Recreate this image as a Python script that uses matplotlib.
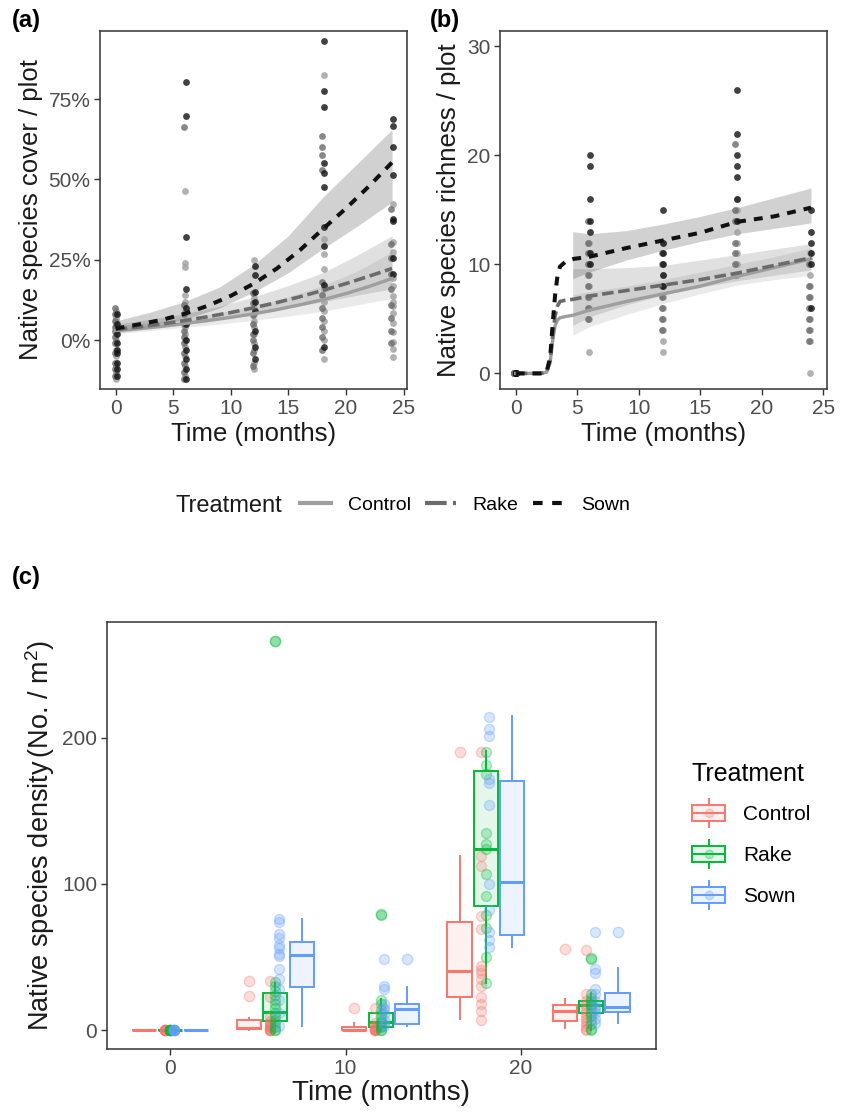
import matplotlib
matplotlib.use("Agg")
import matplotlib.pyplot as plt
import numpy as np
from matplotlib.lines import Line2D
from matplotlib.patches import Rectangle
from matplotlib.colors import to_rgba
from matplotlib.legend_handler import HandlerBase
from matplotlib.ticker import FuncFormatter

plt.rcParams['font.family'] = ['Liberation Sans', 'DejaVu Sans']
plt.rcParams['mathtext.fontset'] = 'custom'
plt.rcParams['mathtext.rm'] = 'Liberation Sans'
plt.rcParams['mathtext.it'] = 'Liberation Sans:italic'

# ---------------- data ----------------
treatments = ["Control", "Rake", "Sown"]
times = [0, 6, 12, 18, 24]

# Panel (a): native species cover (%) per plot, raw points
a_control = {0: [9, 8, 7, 6, 5, 4, 2, 0, -3, -5, -8, -10, -12],
             6: [46.5, 23.9, 22.8, 14, 12, 9, 6, 4, 2, 0, -2, -5, -8, -11],
             12: [25, 13, 10, 8, 6, 4, 2, -1, -3, -7, -9],
             18: [82.5, 31.5, 26.8, 22, 15.8, 12, 9, 6, 3, 0, -6],
             24: [42.5, 30.5, 27.3, 19.4, 16.8, 13.7, 12, 10.5, 8.4, 5.3, 2.6, -0.5, -2.6, -5.3]}
a_rake = {0: [10, 8, 6, 4, 3, 1, -1, -4, -7, -9, -11],
          6: [66.4, 11, 8, 5, 3, 1, -1, -4, -7, -10, -12],
          12: [14.7, 11.6, 7.9, 5, 2, 0, -4, -8],
          18: [63.4, 60.2, 57.5, 53, 18, 14, 10, 7, 4, 1, -3],
          24: [40.8, 30, 25.7, 20.5, 16, 11, 7, 3, -1]}
a_sown = {0: [8, 5, 2, -1, -3, -4, -7, -9, -11],
          6: [80.4, 69.6, 32, 15.9, 10, 5, 0, -3, -6, -9, -12],
          12: [23.1, 20.3, 15, 12, 9, 3, -2, -6],
          18: [93, 77.5, 72.7, 55, 52, 47.8, 35.2, 29.4, 17.3, -2],
          24: [68.8, 66.7, 60.2, 51.5, 37.8, 37, 25.7, 20.5]}

# Panel (a): fitted curves and confidence bands (%)
a_line_t = [0, 2, 4, 6, 8, 10, 12, 14, 16, 18, 20, 22, 24]
a_control_fit = [3.0, 3.6, 4.3, 5.2, 6.1, 7.1, 8.2, 9.5, 11.0, 12.6, 14.5, 16.7, 19.2]
a_rake_fit = [3.3, 4.1, 5.0, 6.1, 7.3, 8.6, 10.1, 11.7, 13.5, 15.5, 17.6, 19.9, 22.3]
a_sown_fit = [3.6, 4.9, 6.3, 8.2, 10.7, 13.8, 17.6, 22.3, 28.0, 34.6, 41.0, 47.9, 55.3]
a_band_t = [0, 3, 6, 9, 12, 15, 18, 21, 24]
a_control_lo = [2.0, 3.0, 4.0, 5.0, 6.2, 7.5, 9.0, 11.0, 13.0]
a_control_hi = [4.5, 5.5, 6.8, 8.5, 10.5, 13.5, 17.0, 21.5, 27.5]
a_rake_lo = [2.2, 3.5, 4.8, 6.3, 8.0, 10.0, 12.0, 14.0, 16.0]
a_rake_hi = [5.0, 6.5, 8.2, 10.5, 13.5, 17.0, 21.0, 26.5, 32.5]
a_sown_lo = [2.5, 4.3, 6.5, 10.0, 15.0, 21.0, 28.5, 35.5, 43.0]
a_sown_hi = [6.0, 8.7, 12.0, 16.5, 23.5, 32.5, 44.5, 55.0, 65.5]

# Panel (b): native species richness per plot
b_control = {0: [0, 0, 0, 0, 0, 0],
             6: [12, 11, 10, 9, 8, 7, 6, 5, 2],
             12: [12, 9, 7, 6, 5, 4, 3, 2],
             18: [16, 15, 13, 12, 11, 10, 9],
             24: [11, 9, 8, 7, 5, 4, 3, 0]}
b_rake = {0: [0, 0, 0, 0, 0, 0],
          6: [14, 12, 11, 10, 9, 8, 7, 6, 5],
          12: [11, 10, 8, 7, 6, 5, 4],
          18: [21, 15, 14, 12, 11, 10, 9],
          24: [10, 8, 7, 6, 5, 4, 3]}
b_sown = {0: [0, 0, 0, 0, 0, 0],
          6: [20, 19, 16, 14, 13, 11, 10],
          12: [15, 12, 11, 10, 9, 8],
          18: [26, 22, 20, 19, 18, 16, 14],
          24: [15, 13, 12, 11, 10, 6]}

b_line_t = [0, 1, 2, 2.5, 2.8, 3.0, 3.2, 3.4, 3.6, 4.0, 4.7, 6, 9, 12, 15, 18, 21, 24]
b_control_fit = [0, 0, 0, 0.1, 1.0, 3.0, 4.4, 4.9, 5.1, 5.2, 5.35, 5.8, 6.6, 7.3, 8.0, 8.9, 9.7, 10.5]
b_rake_fit = [0, 0, 0, 0.1, 1.2, 3.5, 5.3, 6.2, 6.6, 6.7, 6.8, 7.1, 7.6, 8.1, 8.6, 9.2, 9.9, 10.6]
b_sown_fit = [0, 0, 0, 0.1, 1.5, 4.5, 7.2, 9.0, 9.8, 10.2, 10.5, 10.7, 11.5, 12.2, 12.9, 13.9, 14.4, 15.2]
b_band_t = [4.63, 6, 9, 12, 15, 18, 21, 24]
b_control_lo = [3.5, 4.3, 5.4, 6.4, 7.3, 8.1, 8.6, 9.0]
b_control_hi = [7.2, 7.5, 8.0, 8.6, 9.3, 10.0, 10.7, 11.5]
b_rake_lo = [4.4, 5.2, 6.3, 7.2, 7.9, 8.5, 9.0, 9.5]
b_rake_hi = [9.6, 9.6, 9.7, 9.9, 10.4, 10.9, 11.4, 11.9]
b_sown_lo = [8.7, 9.3, 10.4, 11.3, 12.1, 12.8, 13.3, 13.8]
b_sown_hi = [13.0, 12.8, 13.1, 13.7, 14.4, 15.2, 16.1, 17.0]

# Panel (c): native species density (No./m2) raw points
c_control = {0: [0, 0, 0, 0, 0, 0, 0, 0],
             6: [34, 23, 9, 6, 5, 4, 3, 2, 2, 1, 0, 0, 0, 0],
             12: [15, 5, 3, 2, 1, 1, 0, 0, 0, 0, 0],
             18: [190, 119, 112, 78, 69, 44, 41, 39, 35, 30, 23, 18, 13, 7],
             24: [55, 25, 20, 17, 14, 12, 9, 7, 5, 3, 1, 0]}
c_rake = {0: [0, 0, 0, 0, 0, 0, 0, 0],
          6: [266, 33, 30, 27, 24, 21, 18, 15, 12, 10, 7, 5, 2, 0, 0],
          12: [79, 21, 18, 14, 11, 9, 6, 5, 3, 2, 0, 0],
          18: [190, 181, 175, 135, 127, 124, 107, 92, 79, 70, 50, 32],
          24: [49, 25, 22, 20, 18, 17, 15, 12, 10, 7, 4, 1, 0]}
c_sown = {0: [0, 0, 0, 0, 0, 0, 0, 0],
          6: [76, 74, 66, 63, 58, 56, 52, 51, 42, 35, 28, 21, 12, 3],
          12: [48.6, 30, 28, 18, 15, 14, 11, 7, 4, 3],
          18: [214, 206, 201, 172, 169, 154, 100, 82, 67, 62, 57],
          24: [67, 42, 39, 28, 25, 20, 16, 14, 12, 8, 5]}

# Panel (c): boxplot summaries per time [0, 6, 12, 18, 24]
c_control_q1 = [0, 0.7, 0, 23.0, 6.6]
c_control_med = [0, 1.5, 0.5, 40.8, 13.4]
c_control_q3 = [0, 7.0, 2.5, 74.3, 17.3]
c_control_lo = [0, 0, 0, 7.5, 1.8]
c_control_hi = [0, 8.6, 5.2, 118.8, 21.4]
c_control_out = [[], [23.4, 34.0], [15.0], [190.4], [55.4]]
c_rake_q1 = [0, 6.6, 2.1, 85.1, 11.6]
c_rake_med = [0, 12.3, 5.9, 123.8, 17.3]
c_rake_q3 = [0, 25.7, 11.6, 177.4, 20.2]
c_rake_lo = [0, 0, 0, 32.2, 0]
c_rake_hi = [0, 32.5, 21.2, 190.6, 25.3]
c_rake_out = [[], [266], [79.3], [], [49.2]]
c_sown_q1 = [0, 29.4, 4.3, 65.0, 12.7]
c_sown_med = [0, 51.2, 14.4, 101, 16.2]
c_sown_q3 = [0, 60.1, 17.8, 170.1, 25.7]
c_sown_lo = [0, 2.9, 2.9, 57.1, 5.2]
c_sown_hi = [0, 75.9, 29.8, 214.6, 42.4]
c_sown_out = [[], [], [48.5], [], [67.0]]

# ---------------- style ----------------
grey_cols = {"Control": "#9e9e9e", "Rake": "#6b6b6b", "Sown": "#111111"}
band_cols = {"Control": "#999999", "Rake": "#666666", "Sown": "#1a1a1a"}
hue_cols = {"Control": "#F8766D", "Rake": "#00BA38", "Sown": "#619CFF"}
dashes = {"Control": "-", "Rake": (0, (3.2, 1.3)), "Sown": (0, (2.2, 2.0))}
leg_dashes = {"Control": "-", "Rake": (0, (5.2, 1.5)), "Sown": (0, (2.3, 2.3))}
lws = {"Control": 2.4, "Rake": 2.6, "Sown": 2.9}
tick_col = "#4d4d4d"
frame_col = "#333333"

W, H = 844, 1116
fig = plt.figure(figsize=(W / 100, H / 100), dpi=100)


def style_axes(ax, fs):
    for s in ax.spines.values():
        s.set_color(frame_col)
        s.set_linewidth(1.1)
    ax.tick_params(direction='out', length=4, width=1.0, color=frame_col,
                   labelcolor=tick_col, labelsize=fs, pad=3)


# ---------------- panel (a) ----------------
ax_a = fig.add_axes([100 / W, 1 - 389 / H, 307 / W, 358 / H])
a_pts = {"Control": a_control, "Rake": a_rake, "Sown": a_sown}
a_fit = {"Control": a_control_fit, "Rake": a_rake_fit, "Sown": a_sown_fit}
a_lo = {"Control": a_control_lo, "Rake": a_rake_lo, "Sown": a_sown_lo}
a_hi = {"Control": a_control_hi, "Rake": a_rake_hi, "Sown": a_sown_hi}
offs_a = {"Control": 0.05, "Rake": -0.1, "Sown": 0.1}
for tr in treatments:
    ax_a.fill_between(a_band_t, np.array(a_lo[tr]) / 100, np.array(a_hi[tr]) / 100,
                      color=band_cols[tr], alpha=0.2, lw=0, zorder=1)
for tr in treatments:
    for t in times:
        v = np.array(a_pts[tr][t]) / 100
        ax_a.scatter(np.full(len(v), t + offs_a[tr]), v, s=24, color=grey_cols[tr],
                     alpha=0.8, lw=0, zorder=3)
for tr in treatments:
    ax_a.plot(a_line_t, np.array(a_fit[tr]) / 100, color=grey_cols[tr], ls=dashes[tr],
              lw=lws[tr], zorder=4)
ax_a.set_xlim(-1.36, 25.3)
ax_a.set_ylim(-0.152, 0.962)
ax_a.set_xticks([0, 5, 10, 15, 20, 25])
ax_a.set_yticks([0, 0.25, 0.5, 0.75])
ax_a.yaxis.set_major_formatter(FuncFormatter(lambda v, p: f"{v * 100:.0f}%"))
style_axes(ax_a, 15)
ax_a.set_xlabel("Time (months)", fontsize=18.5, color="#1a1a1a", labelpad=3)
ax_a.set_ylabel("Native species cover / plot", fontsize=18.5, color="#1a1a1a", labelpad=4)

# ---------------- panel (b) ----------------
ax_b = fig.add_axes([500 / W, 1 - 389 / H, 327 / W, 358 / H])
b_pts = {"Control": b_control, "Rake": b_rake, "Sown": b_sown}
b_fit = {"Control": b_control_fit, "Rake": b_rake_fit, "Sown": b_sown_fit}
b_lo = {"Control": b_control_lo, "Rake": b_rake_lo, "Sown": b_sown_lo}
b_hi = {"Control": b_control_hi, "Rake": b_rake_hi, "Sown": b_sown_hi}
offs_b = {"Control": -0.05, "Rake": -0.15, "Sown": 0.0}
for tr in treatments:
    ax_b.fill_between(b_band_t, b_lo[tr], b_hi[tr], color=band_cols[tr], alpha=0.2,
                      lw=0, zorder=1)
for tr in treatments:
    for t in times:
        v = np.array(b_pts[tr][t])
        ax_b.scatter(np.full(len(v), t + offs_b[tr]), v, s=24, color=grey_cols[tr],
                     alpha=0.8, lw=0, zorder=3)
for tr in treatments:
    ax_b.plot(b_line_t, b_fit[tr], color=grey_cols[tr], ls=dashes[tr], lw=lws[tr], zorder=4)
ax_b.set_xlim(-1.28, 25.3)
ax_b.set_ylim(-1.43, 31.4)
ax_b.set_xticks([0, 5, 10, 15, 20, 25])
ax_b.set_yticks([0, 10, 20, 30])
style_axes(ax_b, 15)
ax_b.set_xlabel("Time (months)", fontsize=18.5, color="#1a1a1a", labelpad=3)
ax_b.set_ylabel("Native species richness / plot", fontsize=18.5, color="#1a1a1a", labelpad=4)

# legend for (a)/(b)
fig.text(175 / W, 1 - 506 / H, "Treatment", fontsize=17, va='center', ha='left', color="#1a1a1a")
handles_ab = [Line2D([], [], color=grey_cols[tr], ls=leg_dashes[tr], lw=3.0) for tr in treatments]
fig.legend(handles_ab, treatments, loc='center left', bbox_to_anchor=(300 / W, 1 - 505 / H),
           ncol=3, frameon=False, fontsize=14, handlelength=1.6, handletextpad=0.85,
           columnspacing=0.75, borderpad=0, borderaxespad=0)

# ---------------- panel (c) ----------------
ax_c = fig.add_axes([107 / W, 1 - 1049 / H, 549 / W, 427 / H])
c_pts = {"Control": c_control, "Rake": c_rake, "Sown": c_sown}
c_stats = {
    "Control": (c_control_q1, c_control_med, c_control_q3, c_control_lo, c_control_hi, c_control_out),
    "Rake": (c_rake_q1, c_rake_med, c_rake_q3, c_rake_lo, c_rake_hi, c_rake_out),
    "Sown": (c_sown_q1, c_sown_med, c_sown_q3, c_sown_lo, c_sown_hi, c_sown_out),
}
box_dodge = {"Control": -1.5, "Rake": 0.0, "Sown": 1.5}
pt_dodge = {"Control": -0.3, "Rake": 0.0, "Sown": 0.2}

for tr in treatments:
    q1, med, q3, lo, hi, out = c_stats[tr]
    stats = []
    for i in range(len(times)):
        stats.append(dict(q1=q1[i], med=med[i], q3=q3[i], whislo=lo[i], whishi=hi[i],
                          fliers=out[i]))
    col = hue_cols[tr]
    ax_c.bxp(stats, positions=[t + box_dodge[tr] for t in times], widths=1.38,
             patch_artist=True, showcaps=False, manage_ticks=False,
             boxprops=dict(facecolor=to_rgba(col, 0.1), edgecolor=col, linewidth=1.4),
             medianprops=dict(color=col, linewidth=2.2),
             whiskerprops=dict(color=col, linewidth=1.4),
             flierprops=dict(marker='o', markersize=7.5, markerfacecolor=to_rgba(col, 0.25),
                             markeredgecolor=to_rgba(col, 0.32), markeredgewidth=1.0))

for tr in treatments:
    col = hue_cols[tr]
    for t in times:
        v = np.array(c_pts[tr][t])
        ax_c.scatter(np.full(len(v), t + pt_dodge[tr]), v, s=52,
                     facecolor=to_rgba(col, 0.25), edgecolor=to_rgba(col, 0.32), lw=1.0, zorder=3)

ax_c.set_xlim(-3.59, 27.69)
ax_c.set_ylim(-12.8, 279)
ax_c.set_xticks([0, 10, 20])
ax_c.set_yticks([0, 100, 200])
style_axes(ax_c, 15)
ax_c.set_xlabel("Time (months)", fontsize=20, color="#1a1a1a", labelpad=2)
ax_c.set_ylabel(r"Native species density$\,$(No. / m$^2$)", fontsize=19.5, color="#1a1a1a",
                labelpad=4)


class HandlerBox(HandlerBase):
    def create_artists(self, legend, orig_handle, xdescent, ydescent, width, height,
                       fontsize, trans):
        c = orig_handle.get_color()
        x0, y0 = -xdescent, -ydescent
        cx = x0 + width / 2
        bh = height * 0.56
        by = y0 + (height - bh) / 2
        rect = Rectangle((x0, by), width, bh, facecolor=to_rgba(c, 0.1), edgecolor=c,
                         lw=1.4, transform=trans)
        med = Line2D([x0, x0 + width], [y0 + height / 2] * 2, color=c, lw=1.4, transform=trans)
        wt = Line2D([cx, cx], [by + bh, y0 + height], color=c, lw=1.4, transform=trans)
        wb = Line2D([cx, cx], [y0, by], color=c, lw=1.4, transform=trans)
        pt = Line2D([cx], [y0 + height / 2], marker='o', ms=6, ls='', transform=trans,
                    markerfacecolor=to_rgba(c, 0.25), markeredgecolor=to_rgba(c, 0.32))
        return [rect, med, wt, wb, pt]


handles_c = [Line2D([], [], color=hue_cols[tr]) for tr in treatments]
leg = fig.legend(handles_c, treatments, loc='upper left', bbox_to_anchor=(692 / W, 1 - 762 / H),
                 frameon=False, fontsize=15, title="Treatment", title_fontsize=18,
                 handler_map={Line2D: HandlerBox()}, handlelength=1.6, handleheight=1.7,
                 labelspacing=0.62, handletextpad=0.85, borderpad=0, borderaxespad=0)
leg._legend_box.align = "left"

# panel labels
fig.text(12 / W, 1 - 20 / H, "(a)", fontsize=17, fontweight='bold', va='center', ha='left')
fig.text(430 / W, 1 - 20 / H, "(b)", fontsize=17, fontweight='bold', va='center', ha='left')
fig.text(12 / W, 1 - 578 / H, "(c)", fontsize=17, fontweight='bold', va='center', ha='left')

fig.savefig("out.png", dpi=100)
